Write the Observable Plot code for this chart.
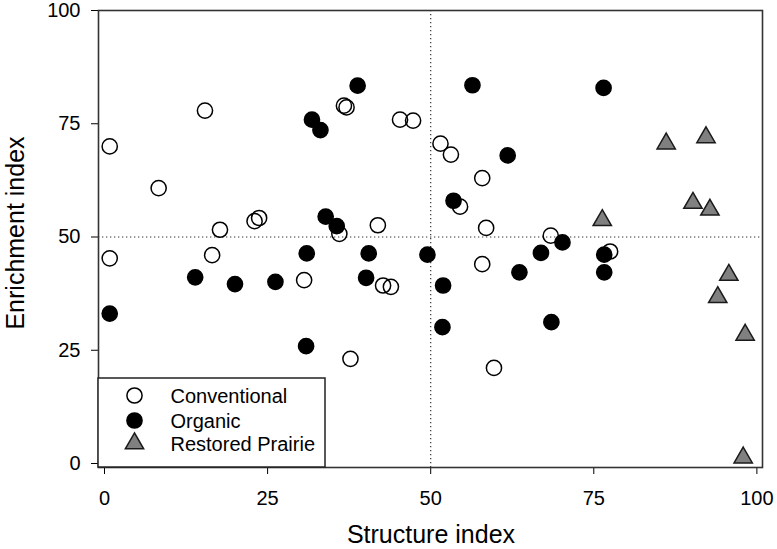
<!DOCTYPE html>
<html>
<head>
<meta charset="utf-8">
<script src="https://cdn.jsdelivr.net/npm/d3@7"></script>
<script src="https://cdn.jsdelivr.net/npm/@observablehq/plot@0.6"></script>
<style>
  html, body { margin: 0; padding: 0; background: #fff; }
  #chart { position: relative; width: 777px; height: 549px; }
</style>
</head>
<body>
<div id="chart"></div>
<script>
// ---- Data ----
const seriesNames = ["Conventional", "Organic", "Restored Prairie"];

const conventionalX = [0.8, 0.8, 8.3, 15.4, 16.5, 17.7, 23.0, 23.7, 30.6, 36.0, 36.7, 37.1, 37.7, 41.9, 42.7, 43.9, 45.3, 47.3, 51.5, 53.1, 54.5, 57.9, 58.5, 57.9, 59.7, 68.4, 77.5];
const conventionalY = [70.0, 45.3, 60.8, 77.9, 46.0, 51.6, 53.5, 54.2, 40.5, 50.7, 79.0, 78.6, 23.1, 52.6, 39.3, 39.0, 75.9, 75.7, 70.6, 68.2, 56.7, 63.0, 52.0, 44.0, 21.1, 50.3, 46.8];

const organicX = [0.8, 13.9, 20.0, 26.2, 31.0, 30.9, 31.8, 33.1, 33.9, 35.6, 38.8, 40.1, 40.5, 49.5, 51.9, 51.8, 53.5, 56.4, 61.8, 63.6, 66.9, 68.5, 70.2, 76.5, 76.6, 76.6];
const organicY = [33.1, 41.1, 39.6, 40.1, 46.4, 25.9, 75.9, 73.6, 54.5, 52.4, 83.4, 41.0, 46.4, 46.1, 39.3, 30.1, 58.0, 83.5, 68.0, 42.2, 46.5, 31.2, 48.8, 82.9, 46.1, 42.2];

const prairieX = [76.3, 86.1, 90.2, 92.2, 92.8, 94.0, 95.7, 97.9, 98.2];
const prairieY = [53.7, 70.6, 57.5, 72.0, 56.0, 36.7, 41.6, 1.3, 28.4];

const xTicks = [0, 25, 50, 75, 100];
const yTicks = [0, 25, 50, 75, 100];
const refX = [50];
const refY = [50];

const xTitle = "Structure index";
const yTitle = "Enrichment index";

// ---- Tables built from the arrays ----
const conventional = conventionalX.map((x, i) => ({x, y: conventionalY[i], group: seriesNames[0]}));
const organic = organicX.map((x, i) => ({x, y: organicY[i], group: seriesNames[1]}));
const prairie = prairieX.map((x, i) => ({x, y: prairieY[i], group: seriesNames[2]}));

const W = 777, H = 549;
const mL = 98, mR = 15, mT = 10, mB = 82;
const FONT = "'Liberation Sans', Arial, Helvetica, sans-serif";
const circleR = 7.6, triR = 6.8;

const plot = Plot.plot({
  width: W,
  height: H,
  marginLeft: mL,
  marginRight: mR,
  marginTop: mT,
  marginBottom: mB,
  style: {fontFamily: FONT, fontSize: "20px", color: "#000", background: "#fff", overflow: "visible"},
  x: {domain: [-0.92, 100.86], ticks: xTicks, tickSize: 7, tickPadding: 16, label: null, tickFormat: d3.format("d")},
  y: {domain: [-0.88, 100], ticks: yTicks, tickSize: 7, tickPadding: 11, label: null, tickFormat: d3.format("d")},
  marks: [
    Plot.ruleX(refX, {stroke: "#333", strokeWidth: 1.2, strokeDasharray: "1.3,2.7"}),
    Plot.ruleY(refY, {stroke: "#333", strokeWidth: 1.2, strokeDasharray: "1.3,2.7"}),
    Plot.dot(conventional, {x: "x", y: "y", r: circleR, fill: "none", stroke: "#000", strokeWidth: 1.5}),
    Plot.dot(organic, {x: "x", y: "y", r: circleR, fill: "#000", stroke: "#000", strokeWidth: 1.5}),
    Plot.dot(prairie, {x: "x", y: "y", r: triR, symbol: "triangle", fill: "#808080", stroke: "#1a1a1a", strokeWidth: 1.5}),
    Plot.frame({stroke: "#333", strokeWidth: 1.6})
  ]
});

document.getElementById("chart").appendChild(plot);

// ---- Axis titles and legend added onto the Plot SVG ----
const svg = d3.select(plot);
const frameL = mL, frameR = W - mR, frameT = mT, frameB = H - mB;

svg.append("text")
  .attr("x", (frameL + frameR) / 2 + 1)
  .attr("y", 543)
  .attr("text-anchor", "middle")
  .attr("font-family", FONT)
  .attr("font-size", 25)
  .attr("fill", "#000")
  .text(xTitle);

svg.append("text")
  .attr("transform", `translate(23.5,233) rotate(-90)`)
  .attr("text-anchor", "middle")
  .attr("font-family", FONT)
  .attr("font-size", 25)
  .attr("fill", "#000")
  .text(yTitle);

// Legend box, bottom-left corner of the frame
const legW = 227, legH = 89;
const leg = svg.append("g").attr("transform", `translate(${frameL},${frameB - legH})`);
leg.append("rect")
  .attr("width", legW).attr("height", legH)
  .attr("fill", "#fff").attr("stroke", "#222").attr("stroke-width", 1.5);

const legendItems = [
  {name: seriesNames[0], type: d3.symbolCircle, r: circleR, fill: "none", stroke: "#000"},
  {name: seriesNames[1], type: d3.symbolCircle, r: circleR, fill: "#000", stroke: "#000"},
  {name: seriesNames[2], type: d3.symbolTriangle, r: triR, fill: "#808080", stroke: "#1a1a1a"}
];
const rowY = [17.5, 42.5, 65.5];
legendItems.forEach((d, i) => {
  leg.append("path")
    .attr("transform", `translate(36.5,${rowY[i]})`)
    .attr("d", d3.symbol().type(d.type).size(Math.PI * d.r * d.r)())
    .attr("fill", d.fill).attr("stroke", d.stroke).attr("stroke-width", 1.5);
  leg.append("text")
    .attr("x", 72.5).attr("y", rowY[i] + 7.2)
    .attr("text-anchor", "start")
    .attr("font-family", FONT).attr("font-size", 20).attr("fill", "#000")
    .text(d.name);
});
</script>
</body>
</html>
